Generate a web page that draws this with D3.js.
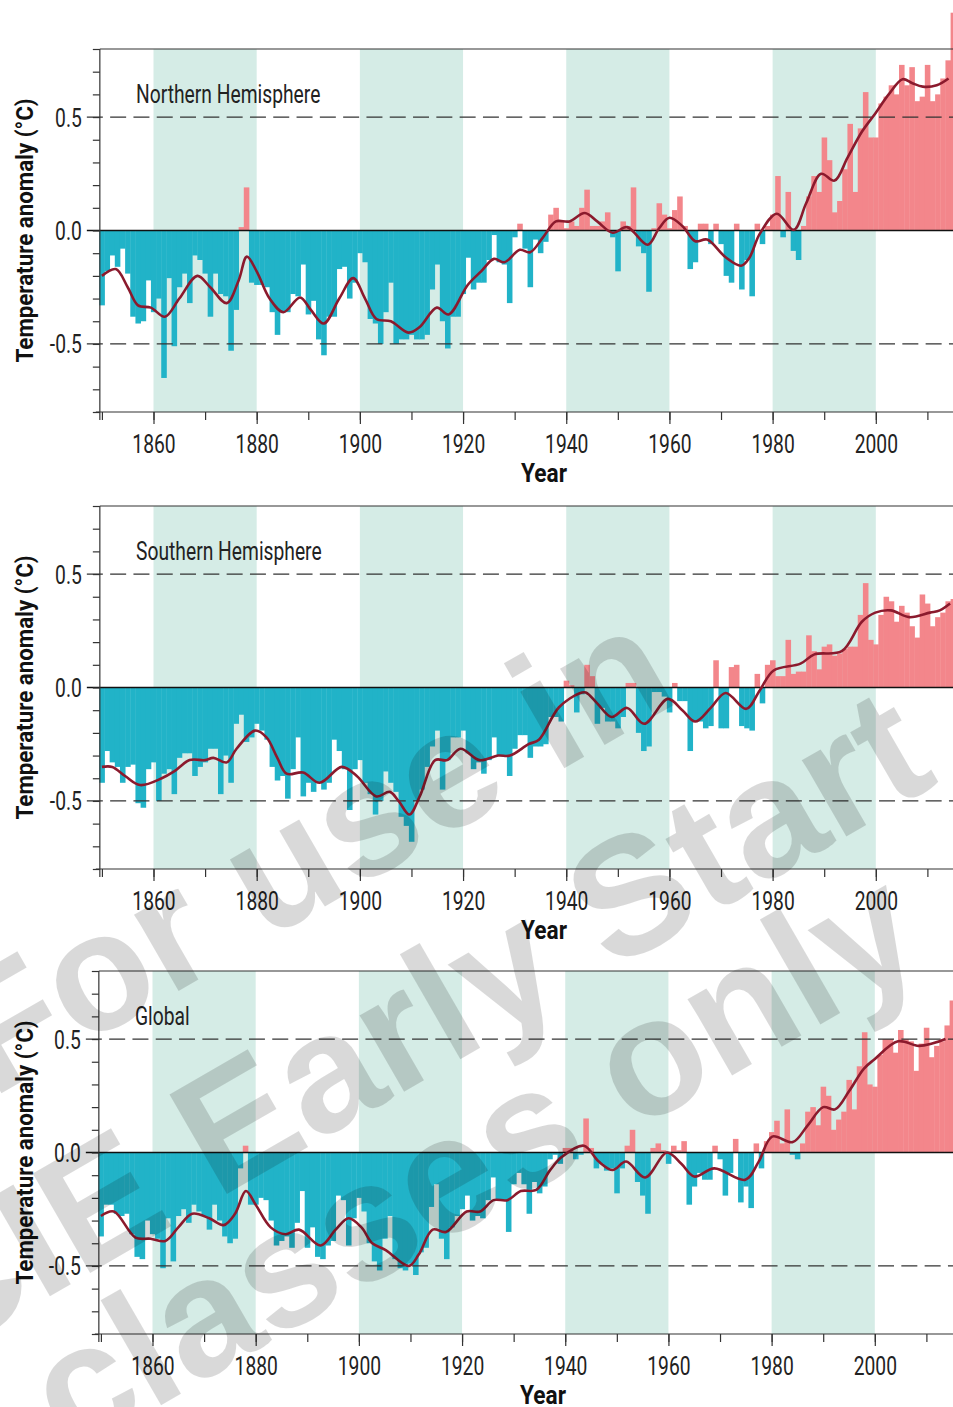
<!DOCTYPE html>
<meta charset="utf-8">
<html>
<!-- Load d3.js -->
<script src="https://d3js.org/d3.v7.min.js"></script>
<style>
    body { margin: 0; background: #fff; }
    text { font-family: "Roboto", "Liberation Sans", sans-serif; }
</style>
<body>
<div id="my_dataviz"></div>
<script>

    // ---- data ----
    const years = d3.range(1850, 2016);

    const nhValues = [
      -0.33,-0.18,-0.11,-0.16,-0.08,-0.19,-0.38,-0.41,-0.40,-0.22,
      -0.36,-0.30,-0.65,-0.21,-0.51,-0.25,-0.19,-0.32,-0.11,-0.13,
      -0.19,-0.38,-0.19,-0.28,-0.29,-0.53,-0.35,0.015,0.19,-0.23,
      -0.24,-0.24,-0.25,-0.36,-0.46,-0.36,-0.36,-0.28,-0.29,-0.15,
      -0.37,-0.31,-0.48,-0.55,-0.38,-0.38,-0.17,-0.16,-0.30,-0.23,
      -0.10,-0.14,-0.39,-0.41,-0.50,-0.36,-0.23,-0.50,-0.48,-0.48,
      -0.46,-0.48,-0.48,-0.46,-0.26,-0.15,-0.40,-0.52,-0.38,-0.38,
      -0.28,-0.12,-0.26,-0.23,-0.23,-0.13,-0.02,-0.14,-0.15,-0.32,
      -0.03,0.03,-0.08,-0.25,-0.04,-0.10,-0.05,0.07,0.10,0.04,
      0.01,0.04,0.02,0.10,0.18,0.02,0.02,0.04,0.08,-0.03,
      -0.18,0.04,0.02,0.19,-0.07,-0.10,-0.27,0.01,0.12,0.07,
      0.01,0.09,0.15,0.02,-0.17,-0.14,0.03,0.03,-0.06,0.03,
      -0.06,-0.20,-0.23,0.03,-0.26,-0.13,-0.29,0.03,-0.06,0.02,
      0.07,0.24,-0.03,0.17,-0.09,-0.13,0.02,0.15,0.24,0.17,
      0.41,0.31,0.08,0.13,0.27,0.47,0.17,0.45,0.61,0.41,
      0.41,0.56,0.59,0.64,0.60,0.73,0.64,0.72,0.57,0.59,
      0.73,0.57,0.60,0.67,0.75,0.96
    ];

    const shValues = [
      -0.42,-0.28,-0.33,-0.35,-0.42,-0.35,-0.34,-0.51,-0.53,-0.36,
      -0.33,-0.50,-0.38,-0.36,-0.47,-0.31,-0.29,-0.29,-0.39,-0.35,
      -0.33,-0.27,-0.27,-0.47,-0.30,-0.42,-0.16,-0.12,-0.24,-0.22,
      -0.16,-0.19,-0.23,-0.35,-0.41,-0.39,-0.49,-0.36,-0.22,-0.48,
      -0.42,-0.46,-0.42,-0.45,-0.42,-0.23,-0.28,-0.36,-0.54,-0.36,
      -0.32,-0.42,-0.47,-0.56,-0.50,-0.37,-0.42,-0.46,-0.57,-0.61,
      -0.68,-0.50,-0.45,-0.35,-0.26,-0.19,-0.45,-0.32,-0.22,-0.22,
      -0.19,-0.29,-0.36,-0.33,-0.38,-0.32,-0.22,-0.30,-0.30,-0.39,
      -0.27,-0.21,-0.21,-0.31,-0.26,-0.26,-0.25,-0.13,-0.13,-0.15,
      0.03,0.01,-0.11,-0.03,0.10,0.05,-0.16,-0.09,-0.15,-0.15,
      -0.18,-0.13,0.02,0.02,-0.20,-0.28,-0.26,-0.02,-0.02,-0.04,
      -0.11,0.02,-0.06,-0.06,-0.28,-0.15,-0.15,-0.18,-0.17,0.12,
      -0.18,-0.18,0.09,0.10,-0.17,-0.18,-0.19,0.06,-0.07,0.10,
      0.12,0.05,0.05,0.21,0.06,0.07,0.07,0.23,0.16,0.08,
      0.18,0.19,0.14,0.15,0.17,0.18,0.18,0.32,0.46,0.21,
      0.19,0.32,0.40,0.38,0.29,0.36,0.33,0.27,0.22,0.41,
      0.37,0.27,0.31,0.33,0.38,0.39
    ];

    const globalValues = [
      -0.37,-0.23,-0.23,-0.27,-0.28,-0.27,-0.36,-0.46,-0.47,-0.30,
      -0.36,-0.38,-0.51,-0.29,-0.48,-0.28,-0.25,-0.31,-0.23,-0.26,
      -0.28,-0.34,-0.23,-0.30,-0.37,-0.40,-0.38,-0.07,0.03,-0.23,
      -0.23,-0.20,-0.21,-0.30,-0.41,-0.39,-0.37,-0.42,-0.31,-0.17,
      -0.42,-0.33,-0.46,-0.47,-0.41,-0.39,-0.19,-0.21,-0.41,-0.29,
      -0.20,-0.26,-0.40,-0.48,-0.52,-0.38,-0.28,-0.47,-0.51,-0.52,
      -0.49,-0.54,-0.44,-0.42,-0.24,-0.14,-0.38,-0.47,-0.33,-0.28,
      -0.25,-0.19,-0.30,-0.28,-0.29,-0.21,-0.11,-0.21,-0.21,-0.35,
      -0.14,-0.09,-0.14,-0.27,-0.13,-0.18,-0.15,-0.03,-0.01,-0.05,
      0.02,0.02,-0.03,-0.01,0.15,0.02,-0.07,-0.05,-0.08,-0.07,
      -0.18,-0.07,0.03,0.10,-0.13,-0.19,-0.27,0.02,0.04,0.01,
      -0.05,0.03,0.01,0.05,-0.23,-0.15,-0.09,-0.12,-0.12,0.03,
      -0.03,-0.19,-0.09,0.06,-0.22,-0.15,-0.245,0.04,-0.07,0.05,
      0.09,0.14,0.04,0.19,-0.01,-0.03,0.04,0.18,0.20,0.12,
      0.29,0.25,0.10,0.145,0.18,0.32,0.19,0.38,0.53,0.30,
      0.29,0.43,0.50,0.50,0.44,0.54,0.50,0.49,0.36,0.48,
      0.55,0.42,0.47,0.49,0.56,0.67
    ];

    // smoothed curves, [year, anomaly]
    const nhSmooth = [
      [1850,-0.20],[1852.7,-0.17],[1855,-0.25],[1857,-0.33],[1859.5,-0.34],[1862.2,-0.38],
      [1865,-0.30],[1868.5,-0.20],[1871,-0.25],[1874.2,-0.32],[1876.5,-0.22],[1878.1,-0.115],
      [1880,-0.18],[1882.5,-0.30],[1885.2,-0.36],[1888.4,-0.295],[1890.5,-0.35],[1893,-0.41],
      [1896,-0.30],[1898.7,-0.21],[1901,-0.30],[1903.2,-0.39],[1906,-0.40],[1909.4,-0.45],
      [1911.6,-0.425],[1914.9,-0.34],[1917.2,-0.37],[1920.9,-0.24],[1923.5,-0.18],[1926,-0.125],
      [1928,-0.14],[1931,-0.085],[1933,-0.096],[1935.5,-0.03],[1938,0.04],[1940.6,0.04],
      [1943.6,0.077],[1946,0.04],[1949,-0.01],[1951.8,0.015],[1955.8,-0.063],[1958,0.01],
      [1960,0.056],[1962.5,0.02],[1965,-0.047],[1967.3,-0.04],[1970.9,-0.118],[1973.9,-0.155],
      [1975.5,-0.12],[1977.5,-0.015],[1980.8,0.074],[1984.1,0.003],[1986.5,0.12],[1989.4,0.25],
      [1992,0.22],[1994.5,0.32],[1997.3,0.435],[1999.9,0.516],[2002.5,0.60],[2005.2,0.667],
      [2007,0.65],[2009.1,0.634],[2011.8,0.64],[2014.1,0.67]
    ];

    const shSmooth = [
      [1850,-0.35],[1852,-0.35],[1854.5,-0.39],[1857.4,-0.43],[1861.6,-0.40],[1864,-0.37],
      [1867,-0.32],[1870,-0.32],[1871.6,-0.31],[1874.2,-0.33],[1876.1,-0.27],[1879.7,-0.19],
      [1881.9,-0.22],[1884,-0.31],[1885.8,-0.38],[1889,-0.375],[1892.2,-0.42],[1896.5,-0.35],
      [1899.4,-0.39],[1903.2,-0.48],[1905.8,-0.46],[1907.5,-0.50],[1909.6,-0.56],[1911.6,-0.48],
      [1914.6,-0.32],[1916.9,-0.32],[1919.5,-0.27],[1923.2,-0.32],[1926.8,-0.30],[1929.1,-0.30],
      [1932.7,-0.25],[1934.7,-0.23],[1938.6,-0.087],[1942.6,-0.025],[1943.8,-0.022],[1946,-0.07],
      [1948.8,-0.13],[1951.8,-0.09],[1955.1,-0.16],[1959.7,-0.05],[1962.5,-0.10],[1965,-0.15],
      [1968,-0.09],[1970.9,-0.024],[1974.9,-0.094],[1977.5,-0.013],[1980.2,0.075],[1985.4,0.105],
      [1988.1,0.146],[1993.4,0.16],[1997.3,0.29],[1999.9,0.33],[2002.9,0.34],[2006.5,0.31],
      [2010.5,0.33],[2012.4,0.34],[2014.4,0.37]
    ];

    const globalSmooth = [
      [1850,-0.28],[1852.5,-0.26],[1856.7,-0.375],[1859.6,-0.38],[1862.5,-0.39],[1865,-0.33],
      [1867.7,-0.27],[1871,-0.29],[1873.8,-0.32],[1876,-0.27],[1878.1,-0.17],[1880,-0.23],
      [1882.9,-0.33],[1885.8,-0.36],[1888.4,-0.34],[1892.6,-0.41],[1895.5,-0.34],[1898,-0.29],
      [1900.5,-0.33],[1902.6,-0.40],[1905.2,-0.43],[1909.7,-0.50],[1911.6,-0.45],[1914.3,-0.34],
      [1916.9,-0.35],[1920.9,-0.26],[1923.5,-0.26],[1926.1,-0.21],[1928.8,-0.21],[1931.4,-0.17],
      [1934.4,-0.165],[1937,-0.08],[1939.3,-0.02],[1943.6,0.03],[1946.5,-0.04],[1949.2,-0.077],
      [1951.8,-0.04],[1955.5,-0.11],[1959.7,0.0],[1962.5,-0.05],[1965,-0.106],[1968.9,-0.07],
      [1974.9,-0.12],[1977.5,-0.04],[1980.1,0.07],[1984.1,0.046],[1987,0.12],[1990,0.20],
      [1992.3,0.19],[1995,0.27],[1997.9,0.37],[1999.9,0.41],[2004.5,0.49],[2008.5,0.47],
      [2011.1,0.48],[2013.7,0.50]
    ];

    const bandRanges = [[1860,1880],[1900,1920],[1940,1960],[1980,2000]];
    const xMajorTicks = [1860,1880,1900,1920,1940,1960,1980,2000];
    const xMinorTicks = d3.range(1850, 2011, 10);
    const yTicks = d3.range(-8, 9).map(d => d / 10);
    const yLabelTicks = [-0.5, 0.0, 0.5];
    const refLines = [-0.5, 0.5];
    const panelTitles = ["Northern Hemisphere", "Southern Hemisphere", "Global"];
    const watermarkLines = ["For use in", "CIE Early Start", "classes only"];

    // ---- layout ----
    const width = 953, height = 1407;
    const plotH = 363;
    const squeeze = 0.77;   // reference uses a condensed face
    const panels = [
      {title: panelTitles[0], values: nhValues, smooth: nhSmooth, top: 49, dx: 0},
      {title: panelTitles[1], values: shValues, smooth: shSmooth, top: 506, dx: 0},
      {title: panelTitles[2], values: globalValues, smooth: globalSmooth, top: 971, dx: -1}
    ];

    const svg = d3.select("#my_dataviz")
      .append("svg")
        .attr("width", width)
        .attr("height", height);

    panels.forEach(function(p) {
      const x = d3.scaleLinear()
        .domain([1860, 2000])
        .range([153.5 + p.dx, 875.8 + p.dx]);
      const y = d3.scaleLinear()
        .domain([-0.8, 0.8])
        .range([p.top + plotH, p.top]);
      const left = x(1849.6);
      const g = svg.append("g");

      // shaded 20-year bands
      g.selectAll("rect.band")
        .data(bandRanges)
        .join("rect")
          .attr("x", d => x(d[0]))
          .attr("y", p.top)
          .attr("width", d => x(d[1]) - x(d[0]))
          .attr("height", plotH)
          .attr("fill", "#d5ece6");

      // annual bars
      const data = years.map((yr, i) => ({year: yr, value: p.values[i]}));
      g.selectAll("rect.bar")
        .data(data)
        .join("rect")
          .attr("x", d => x(d.year - 0.5))
          .attr("y", d => Math.min(y(d.value), y(0)))
          .attr("width", d => x(d.year + 0.5) - x(d.year - 0.5) + 0.4)
          .attr("height", d => Math.abs(y(d.value) - y(0)))
          .attr("fill", d => d.value >= 0 ? "#f3868b" : "#21b3c8");

      // dashed reference lines
      g.selectAll("line.ref")
        .data(refLines)
        .join("line")
          .attr("x1", left - 13)
          .attr("x2", width)
          .attr("y1", d => y(d))
          .attr("y2", d => y(d))
          .attr("stroke", "#333")
          .attr("stroke-width", 1.3)
          .attr("stroke-dasharray", "16,7.3");

      // zero line and top border
      g.append("line")
        .attr("x1", left - 13).attr("x2", width)
        .attr("y1", y(0)).attr("y2", y(0))
        .attr("stroke", "#111").attr("stroke-width", 1.3);
      g.append("line")
        .attr("x1", left).attr("x2", width)
        .attr("y1", p.top).attr("y2", p.top)
        .attr("stroke", "#333").attr("stroke-width", 1.2);

      // smoothed line
      const line = d3.line()
        .x(d => x(d[0]))
        .y(d => y(d[1]))
        .curve(d3.curveCatmullRom.alpha(0.5));
      g.append("path")
        .datum(p.smooth)
        .attr("d", line)
        .attr("fill", "none")
        .attr("stroke", "#8b1a2d")
        .attr("stroke-width", 2.6);

      // y axis
      const yAxis = g.append("g")
        .attr("transform", `translate(${left},0)`)
        .call(d3.axisLeft(y)
          .tickValues(yTicks)
          .tickSize(7)
          .tickPadding(11)
          .tickFormat(d => yLabelTicks.some(v => Math.abs(v - d) < 1e-6) ? d3.format(".1f")(d).replace("−", "-") : ""));
      yAxis.select(".domain").remove();
      yAxis.append("line")
        .attr("y1", p.top).attr("y2", p.top + plotH + 8)
        .attr("stroke", "#333").attr("stroke-width", 1.2);
      yAxis.selectAll("line").attr("stroke", "#333").attr("stroke-width", 1.2);
      yAxis.selectAll("text")
        .attr("class", "cond")
        .attr("dy", "0.36em")
        .attr("fill", "#222")
        .style("font-size", "25px");

      // x axis: minor ticks, then labelled ticks
      const xMinor = g.append("g")
        .attr("transform", `translate(0,${p.top + plotH})`)
        .call(d3.axisBottom(x).tickValues(xMinorTicks).tickSize(8).tickFormat(""));
      xMinor.select(".domain").remove();
      xMinor.append("line")
        .attr("x1", left - 4).attr("x2", width)
        .attr("stroke", "#333").attr("stroke-width", 1.4);
      xMinor.selectAll("line").attr("stroke", "#333").attr("stroke-width", 1.2);

      const xMajor = g.append("g")
        .attr("transform", `translate(0,${p.top + plotH})`)
        .call(d3.axisBottom(x).tickValues(xMajorTicks).tickSize(12).tickFormat(d3.format("d")));
      xMajor.select(".domain").remove();
      xMajor.selectAll("line").attr("stroke", "#333").attr("stroke-width", 1.2);
      xMajor.selectAll("text")
        .attr("class", "cond")
        .attr("y", 41)
        .attr("dy", null)
        .attr("fill", "#222")
        .style("font-size", "25px");

      // labels
      g.append("text")
        .attr("class", "cond")
        .attr("x", 136 + p.dx)
        .attr("y", p.top + 54)
        .attr("fill", "#222")
        .style("font-size", "25px")
        .text(p.title);

      g.append("text")
        .attr("x", 544 + p.dx)
        .attr("y", p.top + plotH + 70)
        .attr("text-anchor", "middle")
        .attr("fill", "#111")
        .attr("textLength", 46)
        .attr("lengthAdjust", "spacingAndGlyphs")
        .style("font-size", "25px")
        .style("font-weight", "bold")
        .text("Year");

      g.append("text")
        .attr("transform", `translate(33,${y(0)}) rotate(-90)`)
        .attr("text-anchor", "middle")
        .attr("fill", "#111")
        .attr("textLength", 264)
        .attr("lengthAdjust", "spacingAndGlyphs")
        .style("font-size", "24px")
        .style("font-weight", "bold")
        .text("Temperature anomaly (°C)");
    });

    // squeeze the regular labels to a condensed width
    svg.selectAll("text.cond").each(function() {
      const len = this.getComputedTextLength();
      d3.select(this)
        .attr("textLength", len * squeeze)
        .attr("lengthAdjust", "spacingAndGlyphs");
    });

    // watermark
    const wm = svg.append("g")
      .attr("transform", "translate(235,1120) rotate(-30)")
      .attr("fill", "#000")
      .attr("fill-opacity", 0.15);
    const wmStarts = [-200, -380, -311];
    const wmBase = [-140, 60, 210];
    wm.selectAll("text")
      .data(watermarkLines)
      .join("text")
        .attr("x", (d, i) => wmStarts[i])
        .attr("y", (d, i) => wmBase[i])
        .style("font-family", "'Liberation Sans', Arial, sans-serif")
        .style("font-weight", "bold")
        .style("font-size", "167px")
        .text(d => d);

</script>
</body>
</html>
